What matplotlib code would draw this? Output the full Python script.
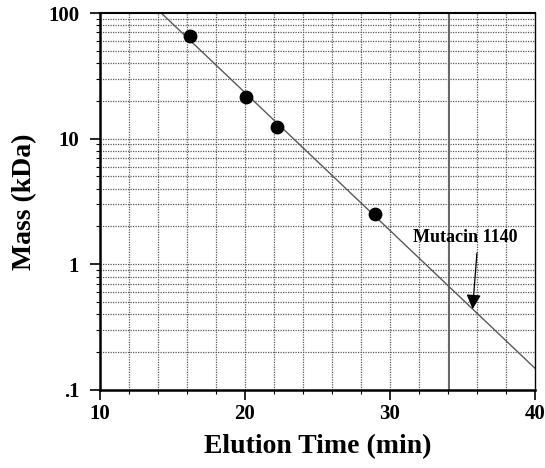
import numpy as np
import matplotlib.pyplot as plt

# standards: elution time (min) vs mass (kDa)
elution = [16.2, 20.1, 22.2, 29.0]
mass = [65.5, 21.5, 12.4, 2.52]

mutacin_time = 35.7
mutacin_mass = 0.44
label_pos = (35.2, 1.62)
arrow_start = (36.0, 1.23)
marker_line_x = 34.1

xticks = [10, 20, 30, 40]
yticks = [0.1, 1, 10, 100]
ytick_labels = ['.1', '1', '10', '100']

plt.rcParams['font.family'] = 'Liberation Serif'
plt.rcParams['font.weight'] = 'bold'

fig = plt.figure(figsize=(5.45, 4.68), dpi=100)
ax = fig.add_axes([0.1835, 0.1667, 0.798, 0.8055])
ax.set_yscale('log')
ax.set_xlim(10, 40)
ax.set_ylim(0.1, 100)

# grid: every 2 min and every log sub-division
for xv in np.arange(12, 40, 2):
    ax.axvline(xv, color='0.35', lw=0.9, ls=(0, (1, 1)), zorder=1)
for dec in [0.1, 1, 10]:
    for m in range(1, 10):
        yv = dec * m
        if 0.1 < yv < 100:
            ax.axhline(yv, color='0.35', lw=0.9, ls=(0, (1, 1)), zorder=1)
ax.axvline(marker_line_x, color='0.4', lw=1.4, zorder=1)

# fitted line through the standards
b, a = np.polyfit(elution, np.log10(mass), 1)
xf = np.linspace(10, 40, 200)
ax.plot(xf, 10 ** (a + b * xf), color='0.35', lw=1.0, zorder=2)
ax.scatter(elution, mass, s=80, color='black', zorder=3)

ax.text(label_pos[0], label_pos[1], 'Mutacin 1140', ha='center', va='center',
        fontsize=13, fontweight='bold', zorder=4)
ax.annotate('', xy=(mutacin_time, mutacin_mass), xytext=arrow_start,
            arrowprops=dict(arrowstyle='-|>', color='black', lw=0.9,
                            mutation_scale=22, shrinkA=0, shrinkB=0))

ax.set_xticks(xticks)
ax.set_xticklabels([str(t) for t in xticks], fontsize=15, fontweight='bold')
ax.set_xticks(np.arange(12, 40, 2), minor=True)
ax.set_yticks(yticks)
ax.set_yticklabels(ytick_labels, fontsize=15, fontweight='bold')
ax.tick_params(axis='both', which='major', direction='out', length=7, width=1.2)
ax.tick_params(axis='x', which='major', pad=3)
ax.tick_params(axis='y', which='major', pad=8)
ax.tick_params(axis='both', which='minor', direction='out', length=3, width=0.8)
ax.tick_params(axis='y', which='minor', labelleft=False)

for side in ['left', 'bottom']:
    ax.spines[side].set_linewidth(1.8)
ax.spines['top'].set_linewidth(1.5)
ax.spines['right'].set_linewidth(1.0)

ax.set_xlabel('Elution Time (min)', fontsize=20, fontweight='bold', labelpad=7)
ax.set_ylabel('Mass (kDa)', fontsize=20, fontweight='bold', labelpad=8)

fig.savefig('out.png', dpi=100)
